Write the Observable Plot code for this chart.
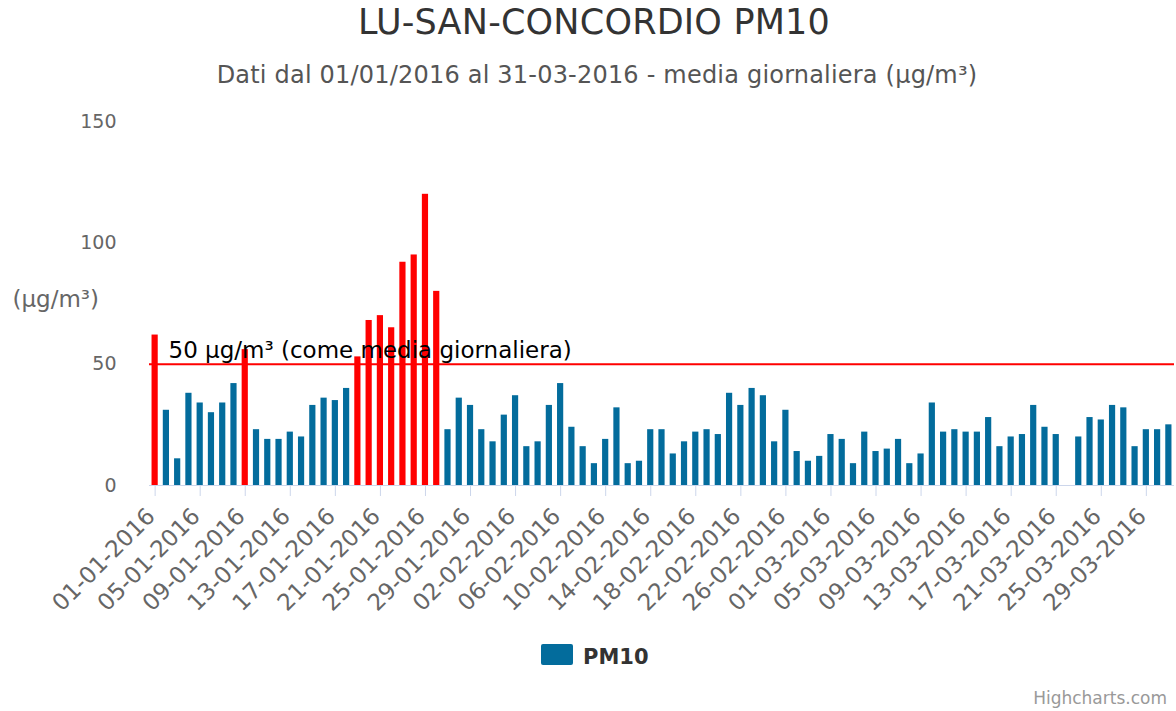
<!DOCTYPE html>
<html><head><meta charset="utf-8">
<script src="https://cdn.jsdelivr.net/npm/d3@7"></script>
<script src="https://cdn.jsdelivr.net/npm/@observablehq/plot@0.6"></script>
<style>
body{margin:0;background:#fff;font-family:"DejaVu Sans",sans-serif;}
#wrap{position:relative;width:1176px;height:711px;overflow:hidden;background:#fff;}
.abs{position:absolute;white-space:nowrap;line-height:1;}
#title{left:594px;top:5px;transform:translateX(-50%);font-size:35px;color:#333;letter-spacing:0.2px;}
#subtitle{left:597px;top:63px;transform:translateX(-50%);font-size:24px;color:#555;letter-spacing:0.2px;}
#chart{position:absolute;left:0;top:100px;}
#swatch{left:541px;top:644px;width:32px;height:21px;background:#036c9c;border-radius:2px;}
#legtext{left:583px;top:647px;font-size:21px;font-weight:bold;color:#333;}
#credits{right:9px;top:690px;font-size:17px;color:#999;}
</style>
</head><body>
<div id="wrap">
  <div id="title" class="abs">LU-SAN-CONCORDIO PM10</div>
  <div id="subtitle" class="abs">Dati dal 01/01/2016 al 31-03-2016 - media giornaliera (µg/m³)</div>
  <div id="chart"></div>
  <div id="swatch" class="abs"></div>
  <div id="legtext" class="abs">PM10</div>
  <div id="credits" class="abs">Highcharts.com</div>
</div>
<script>
const days = d3.utcDay.range(new Date(Date.UTC(2016,0,1)), new Date(Date.UTC(2016,3,1))).map(d3.utcFormat("%d-%m-%Y"));
const pm10 = [
  62,31,11,38,34,30,34,42,56,23,
  19,19,22,20,33,36,35,40,53,68,
  70,65,92,95,120,80,23,36,33,23,
  18,29,37,16,18,33,42,24,16,9,
  19,32,9,10,23,23,13,18,22,23,
  21,38,33,40,37,18,31,14,10,12,
  21,19,9,22,14,15,19,9,13,34,
  22,23,22,22,28,16,20,21,33,24,
  21,null,20,28,27,33,32,16,23,23,
  25
];
const tickLabels = ["01-01-2016","05-01-2016","09-01-2016","13-01-2016","17-01-2016","21-01-2016","25-01-2016","29-01-2016","02-02-2016","06-02-2016","10-02-2016","14-02-2016","18-02-2016","22-02-2016","26-02-2016","01-03-2016","05-03-2016","09-03-2016","13-03-2016","17-03-2016","21-03-2016","25-03-2016","29-03-2016"];
const yTicks = [0,50,100,150];
const gridValues = [50,100,150];
const limit = [50];
const limitLabel = "50 µg/m³ (come media giornaliera)";
const unitLabel = "(µg/m³)";
const blue = "#036c9c", red = "#ff0000";

const data = days.map((d,i)=>({date:d, value:pm10[i]})).filter(d=>d.value!=null);

const chart = Plot.plot({
  width:1176, height:530, marginTop:21, marginBottom:145, marginLeft:149, marginRight:2,
  style:{fontFamily:"DejaVu Sans", background:"transparent", overflow:"visible"},
  x:{type:"band", domain:days, paddingInner:0.45, paddingOuter:0.225, round:false, axis:null},
  y:{domain:[0,150], axis:null},
  marks:[
    Plot.ruleY(gridValues, {x1:147, x2:1172, stroke:"#e6e6e6"}),
    Plot.barY(data, {x:"date", y:"value", fill:d=>d.value>limit[0]?red:blue}),
    Plot.ruleY([0], {stroke:"#ccd6eb"}),
    Plot.ruleY(limit, {stroke:red, strokeWidth:2}),
    Plot.axisX({ticks:tickLabels, tickSize:11, stroke:"#ccd6eb", fill:"none", label:null}),
    Plot.axisX({ticks:tickLabels, tickSize:0, tickPadding:27, tickRotate:-45, fontSize:23, fill:"#666", stroke:"none", dx:-4, label:null}),
    Plot.axisY({ticks:yTicks, tickSize:0, tickPadding:33, fontSize:19, fill:"#666", label:null}),
    Plot.text([unitLabel], {frameAnchor:"left", dx:-137, dy:-4, textAnchor:"start", fontSize:23, fill:"#666"}),
    Plot.text(limit, {y:d=>d, text:()=>limitLabel, frameAnchor:"left", dx:19, dy:-6, lineAnchor:"bottom", textAnchor:"start", fontSize:23, fill:"#000"})
  ]
});
document.getElementById("chart").appendChild(chart);
</script>
</body></html>
